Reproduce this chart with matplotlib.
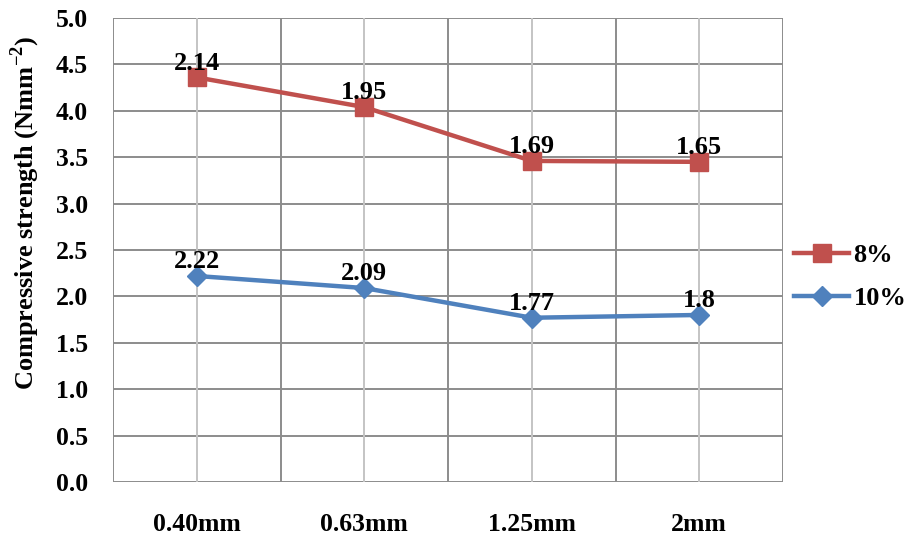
import matplotlib
matplotlib.use("Agg")
import matplotlib.pyplot as plt
import numpy as np

# Particle size categories
categories = ["0.40mm", "0.63mm", "1.25mm", "2mm"]

# Compressive strength per series (N/mm^2); chart is a stacked line chart
strength_10 = [2.22, 2.09, 1.77, 1.8]
strength_8 = [2.14, 1.95, 1.69, 1.65]

series_names = ["8%", "10%"]
y_ticks = [0.0, 0.5, 1.0, 1.5, 2.0, 2.5, 3.0, 3.5, 4.0, 4.5, 5.0]

plt.rcParams["font.family"] = ["Liberation Serif", "DejaVu Serif"]
plt.rcParams["font.weight"] = "bold"
plt.rcParams["mathtext.fontset"] = "custom"
plt.rcParams["mathtext.rm"] = "Liberation Serif:bold"
plt.rcParams["mathtext.bf"] = "Liberation Serif:bold"

fig = plt.figure(figsize=(9.08, 5.37), dpi=100)
ax = fig.add_axes([113 / 908, 55 / 537, 670 / 908, 464 / 537])

x = np.arange(len(categories))
base = np.array(strength_10)
stacked_8 = base + np.array(strength_8)

red = "#C0504D"
blue = "#4F81BD"

ax.plot(x, stacked_8, color=red, lw=3.2, marker="s", ms=13, zorder=3,
        label=series_names[0])
ax.plot(x, base, color=blue, lw=3.2, marker="D", ms=10, zorder=3,
        label=series_names[1])

for xi, yi, v in zip(x, stacked_8, strength_8):
    ax.annotate(f"{v:g}", (xi, yi), xytext=(0, 2), textcoords="offset points",
                ha="center", va="bottom", fontsize=19, fontweight="bold", zorder=4)
for xi, yi, v in zip(x, base, strength_10):
    ax.annotate(f"{v:g}", (xi, yi), xytext=(0, 2), textcoords="offset points",
                ha="center", va="bottom", fontsize=19, fontweight="bold", zorder=4)

ax.set_xlim(-0.5, len(categories) - 0.5)
ax.set_ylim(0, 5)
ax.set_yticks(y_ticks)
ax.set_yticklabels([f"{t:.1f}" for t in y_ticks])
ax.set_xticks(x)
ax.set_xticklabels(categories)

# Grid: horizontal value lines, darker category boundaries, lighter center lines
for t in y_ticks:
    ax.axhline(t, color="#8c8c8c", lw=1.4, zorder=1)
for b in np.arange(-0.5, len(categories), 1.0):
    ax.axvline(b, color="#8c8c8c", lw=1.4, zorder=1)
for c in x:
    ax.axvline(c, color="#c4c4c4", lw=1.4, zorder=1)

for s in ax.spines.values():
    s.set_visible(False)

ax.tick_params(axis="both", length=0, labelsize=18.5)
ax.tick_params(axis="y", pad=18)
ax.tick_params(axis="x", pad=22)
for lab in ax.get_xticklabels() + ax.get_yticklabels():
    lab.set_fontweight("bold")

ax.set_ylabel("Compressive strength (Nmm$^{-2}$)", fontsize=19,
              fontweight="bold", va="center")
ax.yaxis.set_label_coords(-88 / 670, (482 - 213) / 464)

leg = fig.legend(loc="center left", bbox_to_anchor=(794 / 908, 1 - 277 / 537),
                 frameon=False, handlelength=2.1, handletextpad=0.15,
                 labelspacing=0.75, borderpad=0, borderaxespad=0,
                 prop={"weight": "bold", "size": 19})

fig.savefig("out.png", dpi=100)
